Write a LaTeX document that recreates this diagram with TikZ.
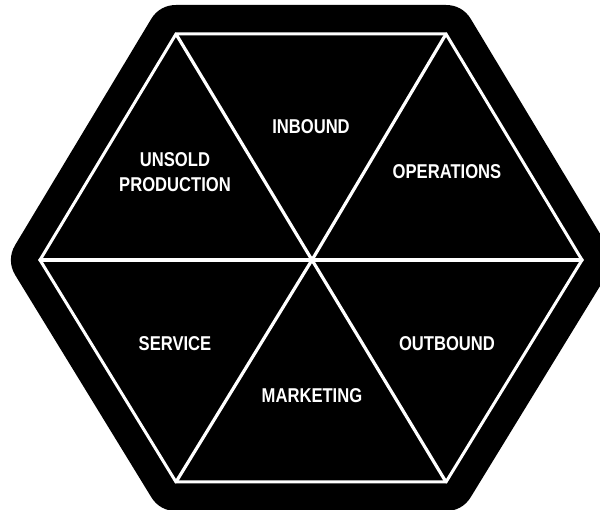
\documentclass[tikz,border=0pt]{standalone}
\usepackage{fontspec}
\newfontfamily\lblfont{Liberation Sans}[FakeStretch=0.83]
\begin{document}
\begin{tikzpicture}[x=1pt,y=-1pt,
  lbl/.style={text=white,inner sep=0pt,align=center,
    font=\lblfont\bfseries\fontsize{20}{25}\selectfont},
  divider/.style={draw=white,line width=3.2pt,line cap=round},
  frame/.style={draw=white,line width=3pt,line join=miter}]
\useasboundingbox (0,0) rectangle (600,510);
\clip (0,0) rectangle (600,510);
% vertices of the inner hexagon
\coordinate (tl) at (176,34);
\coordinate (tr) at (446,34);
\coordinate (r) at (582,260);
\coordinate (br) at (446,482);
\coordinate (bl) at (176,482);
\coordinate (l) at (40,260);
\coordinate (c) at (312,260);
% outer black rounded hexagon
\draw[black,fill=black,line width=58pt,line join=round]
  (tl) -- (tr) -- (r) -- (br) -- (bl) -- (l) -- cycle;
% white outline
\draw[frame] (tl) -- (tr) -- (r) -- (br) -- (bl) -- (l) -- cycle;
% dividers
\draw[divider] (c) -- (tl);
\draw[divider] (c) -- (tr);
\draw[divider] (c) -- (r);
\draw[divider] (c) -- (br);
\draw[divider] (c) -- (bl);
\draw[divider] (c) -- (l);
% labels
\node[lbl] (inbound) at (311,127) {INBOUND};
\node[lbl] (unsold) at (175,172.5) {UNSOLD\\PRODUCTION};
\node[lbl] (operations) at (447,172) {OPERATIONS};
\node[lbl] (service) at (175,344) {SERVICE};
\node[lbl] (outbound) at (447,344) {OUTBOUND};
\node[lbl] (marketing) at (312,396) {MARKETING};
\end{tikzpicture}
\end{document}
